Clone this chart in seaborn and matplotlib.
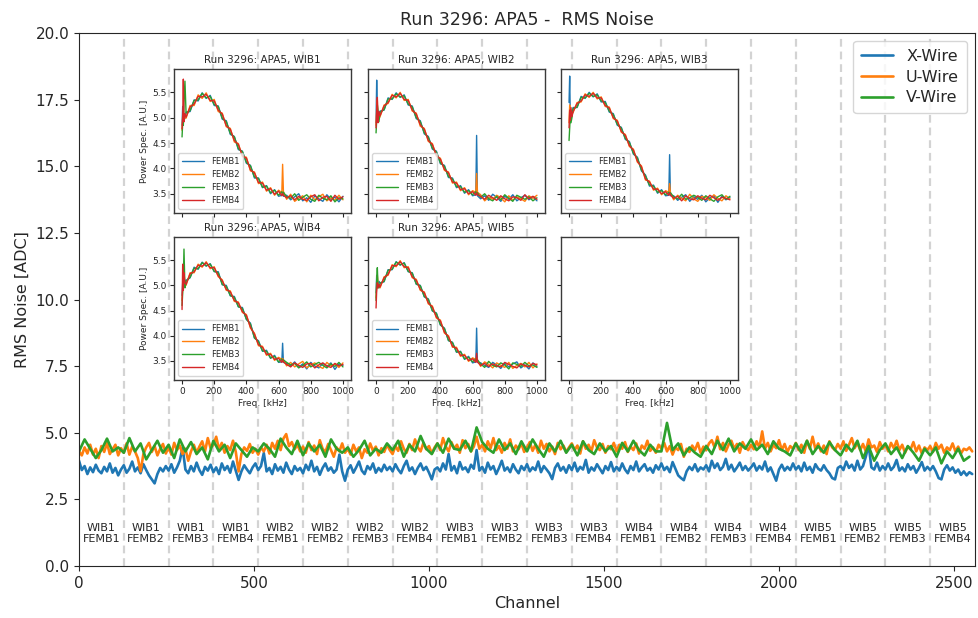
import numpy as np
import pandas as pd
import matplotlib
matplotlib.use("Agg")
import matplotlib.pyplot as plt
import seaborn as sns

sns.set_style("ticks")
plt.rcParams['font.family'] = ['DejaVu Sans']

# ---------------- main RMS data (one row per FEMB, 128 channels each) ----------------
X_CH = np.arange(0, 2560, 8)
X_RMS = [
    3.95, 3.60, 3.75, 3.45, 3.70, 3.52, 3.80, 3.58, 3.48, 3.72, 3.55, 3.85, 3.50, 3.68, 3.40, 3.62,
    3.78, 3.50, 3.65, 3.92, 3.55, 3.70, 3.48, 3.82, 3.60, 3.40, 3.25, 3.10, 3.45, 3.68, 3.55, 3.75,
    3.58, 3.82, 3.50, 3.70, 3.95, 4.45, 3.62, 3.48, 3.75, 3.55, 3.88, 3.60, 3.42, 3.72, 3.58, 3.80,
    3.52, 3.70, 3.45, 3.85, 3.60, 3.75, 3.50, 3.92, 3.58, 3.23, 3.55, 3.78, 3.62, 3.48, 3.70, 3.85,
    3.60, 3.75, 4.24, 3.55, 3.68, 3.45, 3.82, 3.58, 3.72, 3.50, 3.88, 3.62, 3.45, 3.75, 3.58, 3.68,
    3.48, 3.80, 3.60, 3.95, 3.55, 3.72, 3.42, 3.68, 3.85, 3.58, 3.70, 3.50, 3.62, 4.18, 3.55, 3.20,
    3.62, 3.78, 3.50, 3.70, 3.92, 3.58, 3.45, 3.75, 3.62, 3.85, 3.50, 3.68, 3.55, 3.80, 3.60, 3.72,
    3.55, 3.82, 3.62, 3.48, 3.75, 3.95, 3.58, 3.70, 3.45, 3.68, 3.85, 3.60, 3.72, 3.50, 3.25, 3.62,
    3.70, 3.55, 3.85, 3.62, 4.20, 3.58, 3.75, 3.48, 3.90, 3.62, 3.70, 3.52, 3.80, 3.65, 4.35, 3.58,
    3.72, 3.50, 3.88, 3.62, 3.75, 3.45, 3.68, 3.95, 3.58, 3.70, 3.52, 3.82, 3.62, 3.48, 3.75, 3.60,
    3.82, 3.55, 3.70, 3.60, 3.92, 3.52, 3.75, 3.62, 3.48, 3.26, 3.68, 3.85, 3.58, 3.72, 3.50, 3.78,
    3.60, 3.88, 3.55, 3.72, 3.62, 3.98, 3.50, 3.70, 3.58, 3.82, 3.65, 3.48, 3.75, 3.60, 3.90, 3.55,
    3.72, 3.58, 3.85, 3.62, 3.48, 3.75, 3.60, 3.92, 3.55, 3.70, 3.82, 3.58, 3.68, 3.50, 3.78, 3.62,
    3.85, 3.60, 3.72, 3.52, 3.90, 3.65, 3.40, 3.30, 3.22, 3.55, 3.72, 3.60, 3.82, 3.55, 3.70, 3.62,
    3.78, 3.55, 3.95, 3.68, 3.85, 3.60, 3.72, 4.02, 3.62, 3.80, 3.55, 3.70, 3.88, 3.60, 3.75, 3.58,
    3.70, 3.85, 3.58, 3.75, 3.62, 3.92, 3.55, 3.70, 3.45, 3.20, 3.62, 3.80, 3.58, 3.72, 3.60, 3.85,
    3.62, 3.75, 3.55, 3.88, 3.60, 3.72, 3.50, 3.82, 3.65, 3.58, 3.78, 3.60, 3.48, 3.30, 3.25, 3.68,
    3.75, 3.60, 3.92, 3.68, 3.80, 3.58, 3.95, 3.62, 3.75, 4.10, 4.55, 3.70, 3.62, 3.88, 3.58, 3.75,
    3.62, 3.85, 3.60, 3.72, 3.98, 3.58, 3.70, 3.55, 3.82, 3.62, 3.75, 3.50, 3.68, 3.90, 3.58, 3.72,
    3.60, 3.75, 3.55, 3.30, 3.25, 3.62, 3.78, 3.58, 3.70, 3.50, 3.62, 3.42, 3.55, 3.40, 3.52, 3.45,
]
U_CH = np.arange(0, 2560, 8)
U_RMS = [
    4.30, 4.15, 4.45, 4.22, 4.55, 4.18, 4.40, 4.05, 4.50, 4.28, 4.62, 4.20, 4.38, 4.55, 4.15, 4.42,
    4.25, 4.60, 4.18, 4.48, 4.30, 4.05, 3.55, 4.20, 4.45, 4.62, 4.28, 4.50, 4.15, 4.40, 4.58, 4.22,
    4.45, 4.18, 4.62, 4.35, 4.52, 4.20, 4.40, 3.95, 4.30, 4.55, 4.25, 4.48, 4.68, 4.30, 4.80, 4.42,
    4.55, 4.85, 4.38, 4.62, 4.25, 4.50, 4.35, 4.70, 4.28, 3.55, 4.20, 4.45, 4.32, 4.58, 4.25, 4.40,
    4.18, 4.45, 4.30, 4.55, 4.22, 4.62, 4.40, 4.70, 4.35, 4.78, 4.95, 4.50, 4.65, 4.38, 4.55, 4.30,
    4.48, 4.25, 4.65, 4.35, 4.52, 4.20, 4.72, 4.40, 4.28, 4.58, 4.35, 4.10, 4.45, 4.30, 4.60, 4.25,
    4.40, 4.18, 4.55, 4.30, 4.45, 4.05, 4.38, 4.25, 4.60, 4.32, 4.48, 4.15, 4.42, 4.28, 4.55, 4.35,
    4.20, 4.50, 4.32, 4.68, 4.40, 4.25, 4.58, 4.35, 4.75, 4.45, 4.30, 4.62, 4.38, 4.50, 4.22, 4.45,
    4.60, 4.35, 4.80, 4.48, 4.30, 4.65, 4.40, 4.55, 4.25, 4.72, 4.42, 4.58, 4.30, 4.48, 4.85, 4.40,
    4.55, 4.30, 4.68, 4.42, 4.80, 4.35, 4.50, 4.25, 4.62, 4.40, 4.75, 4.30, 4.52, 4.38, 4.60, 4.28,
    4.45, 4.65, 4.32, 4.55, 4.25, 4.70, 4.40, 4.58, 4.30, 4.48, 4.20, 4.62, 4.38, 4.52, 4.28, 4.45,
    4.60, 4.35, 4.52, 4.22, 4.68, 4.40, 4.55, 4.30, 4.72, 4.45, 4.35, 4.58, 4.25, 4.50, 4.38, 4.62,
    4.30, 4.55, 4.40, 4.65, 4.28, 4.48, 4.35, 4.60, 4.22, 4.52, 4.40, 4.70, 4.32, 4.45, 4.25, 4.55,
    4.40, 4.62, 4.30, 4.50, 4.18, 4.45, 4.35, 4.58, 4.10, 4.40, 4.28, 4.52, 4.35, 4.62, 4.25, 4.48,
    4.35, 4.60, 4.72, 4.45, 4.85, 4.38, 4.62, 4.30, 4.55, 4.70, 4.40, 4.58, 4.25, 4.65, 4.45, 4.35,
    4.55, 4.38, 4.68, 4.45, 5.05, 4.40, 4.62, 4.30, 4.55, 4.42, 4.72, 4.35, 4.58, 4.28, 4.50, 4.40,
    4.62, 4.35, 4.55, 4.25, 4.70, 4.40, 4.85, 4.38, 4.60, 4.30, 4.52, 4.20, 4.68, 4.45, 4.35, 4.58,
    4.40, 4.68, 4.32, 4.55, 4.80, 4.42, 4.62, 4.35, 4.58, 4.30, 4.75, 4.45, 4.52, 4.28, 4.65, 4.40,
    4.55, 4.30, 4.62, 4.42, 4.70, 4.35, 4.55, 4.25, 4.48, 4.38, 4.65, 4.30, 4.52, 4.22, 4.45, 4.35,
    4.50, 4.28, 4.62, 4.40, 4.55, 4.25, 4.45, 4.35, 4.60, 4.30, 4.48, 4.22, 4.40, 4.35, 4.45, 4.30,
]
V_CH = np.arange(0, 2560, 16)
V_RMS = [
    4.30, 4.75, 4.40, 4.05, 4.35, 4.78, 4.30, 4.45,
    4.25, 4.80, 4.30, 4.60, 4.00, 4.35, 4.70, 4.25,
    4.55, 4.05, 4.75, 4.30, 4.65, 4.20, 4.45, 4.00,
    4.70, 4.30, 4.55, 4.05, 4.60, 4.35, 4.10, 4.45,
    4.30, 4.60, 4.40, 4.10, 4.78, 4.45, 4.20, 4.70,
    4.15, 4.60, 4.30, 4.55, 4.10, 4.75, 4.40, 4.25,
    4.45, 4.10, 4.35, 4.70, 4.15, 4.40, 4.25, 4.60,
    4.35, 4.70, 4.10, 4.55, 4.30, 4.88, 4.40, 4.20,
    4.60, 4.25, 4.78, 4.40, 4.35, 4.70, 4.30, 5.20,
    4.65, 4.40, 4.25, 4.75, 4.35, 4.60, 4.20, 4.68,
    4.30, 4.75, 4.40, 4.10, 4.60, 4.30, 4.70, 4.25,
    4.55, 4.15, 4.68, 4.35, 4.20, 4.60, 4.30, 4.50,
    4.10, 4.62, 4.30, 4.70, 4.35, 4.15, 4.55, 4.30,
    4.30, 5.37, 4.35, 4.60, 4.15, 4.45, 4.25, 4.10,
    4.50, 4.20, 4.70, 4.35, 4.78, 4.30, 4.60, 4.40,
    4.75, 4.35, 4.55, 4.20, 4.68, 4.40, 4.30, 4.15,
    4.60, 4.25, 4.70, 4.20, 4.50, 4.25, 4.65, 4.35,
    4.15, 4.55, 4.30, 4.70, 4.05, 4.50, 3.95, 4.35,
    4.60, 4.20, 4.45, 4.05, 4.50, 4.25, 3.95, 4.40,
    4.15, 4.45, 3.85, 4.30, 4.05, 4.40, 3.95, 4.10,
]
SERIES = ['X-Wire', 'U-Wire', 'V-Wire']
WIBS = [1, 2, 3, 4, 5]
FEMBS = [1, 2, 3, 4]

# ---------------- inset spectra ----------------
FREQ = [0, 4, 8, 12, 18,
        25, 50, 75, 100, 125, 150, 175, 200, 225, 250, 275, 300,
        325, 350, 375, 400, 425, 450, 475, 500, 525, 550, 575, 600,
        620, 625, 630,
        650, 675, 700, 725, 750, 775, 800, 825, 850, 875, 900, 925, 950, 975, 1000]

W1_F1 = [4.85, 5.22, 4.90, 5.08, 4.98,
         5.11, 5.12, 5.35, 5.33, 5.49, 5.38, 5.44, 5.24, 5.23, 4.97, 4.94, 4.67, 4.63, 4.37, 4.34, 4.10, 4.06, 3.81, 3.81, 3.62, 3.66, 3.50, 3.58, 3.45,
         3.47, 3.53, 3.45,
         3.47, 3.38, 3.44, 3.50, 3.36, 3.42, 3.33, 3.46, 3.40, 3.35, 3.48, 3.39, 3.43, 3.34, 3.45]
W1_F2 = [4.75, 5.05, 5.00, 4.95, 5.02,
         4.99, 5.24, 5.24, 5.45, 5.38, 5.49, 5.32, 5.36, 5.12, 5.09, 4.82, 4.79, 4.52, 4.49, 4.23, 4.22, 3.95, 3.93, 3.70, 3.73, 3.55, 3.62, 3.47, 3.57,
         3.52, 4.08, 3.54,
         3.39, 3.49, 3.35, 3.41, 3.46, 3.34, 3.47, 3.38, 3.44, 3.49, 3.36, 3.42, 3.37, 3.47, 3.38]
W1_F3 = [4.62, 4.90, 4.85, 5.30, 5.72,
         5.09, 5.14, 5.34, 5.35, 5.48, 5.39, 5.42, 5.26, 5.22, 4.99, 4.92, 4.69, 4.62, 4.39, 4.33, 4.12, 4.05, 3.83, 3.80, 3.63, 3.65, 3.52, 3.57, 3.47,
         3.54, 3.48, 3.53,
         3.44, 3.41, 3.50, 3.37, 3.43, 3.48, 3.39, 3.35, 3.47, 3.41, 3.38, 3.46, 3.34, 3.42, 3.40]
W1_F4 = [4.78, 5.00, 5.76, 4.92, 5.08,
         5.01, 5.21, 5.27, 5.42, 5.41, 5.46, 5.34, 5.33, 5.15, 5.07, 4.84, 4.77, 4.55, 4.47, 4.25, 4.20, 3.97, 3.91, 3.72, 3.71, 3.57, 3.60, 3.49, 3.55,
         3.46, 3.51, 3.47,
         3.42, 3.46, 3.38, 3.45, 3.39, 3.37, 3.44, 3.48, 3.36, 3.43, 3.45, 3.35, 3.47, 3.39, 3.44]

W2_F1 = [4.90, 5.74, 5.10, 4.95, 5.05,
         5.13, 5.15, 5.39, 5.36, 5.49, 5.40, 5.45, 5.25, 5.23, 4.98, 4.94, 4.68, 4.63, 4.38, 4.34, 4.09, 4.06, 3.82, 3.81, 3.62, 3.66, 3.51, 3.58, 3.46,
         3.48, 4.65, 3.46,
         3.40, 3.46, 3.37, 3.49, 3.43, 3.35, 3.45, 3.39, 3.48, 3.36, 3.42, 3.47, 3.38, 3.44, 3.36]
W2_F2 = [4.85, 5.20, 5.35, 5.00, 4.98,
         5.02, 5.25, 5.28, 5.46, 5.39, 5.50, 5.34, 5.36, 5.13, 5.09, 4.83, 4.79, 4.53, 4.49, 4.24, 4.20, 3.96, 3.93, 3.71, 3.73, 3.56, 3.62, 3.48, 3.56,
         3.53, 3.90, 3.53,
         3.48, 3.36, 3.43, 3.39, 3.47, 3.42, 3.34, 3.46, 3.37, 3.44, 3.40, 3.35, 3.46, 3.41, 3.47]
W2_F3 = [4.70, 4.95, 5.25, 5.15, 4.92,
         5.11, 5.16, 5.37, 5.37, 5.47, 5.41, 5.43, 5.27, 5.21, 5.00, 4.92, 4.70, 4.61, 4.40, 4.32, 4.11, 4.04, 3.84, 3.79, 3.64, 3.64, 3.53, 3.56, 3.48,
         3.54, 3.49, 3.52,
         3.43, 3.50, 3.40, 3.36, 3.45, 3.38, 3.48, 3.41, 3.35, 3.47, 3.43, 3.39, 3.44, 3.36, 3.42]
W2_F4 = [4.80, 5.10, 5.40, 4.90, 5.12,
         5.04, 5.23, 5.30, 5.44, 5.41, 5.48, 5.36, 5.34, 5.15, 5.07, 4.86, 4.77, 4.55, 4.47, 4.26, 4.18, 3.98, 3.91, 3.73, 3.71, 3.58, 3.60, 3.50, 3.54,
         3.47, 3.52, 3.48,
         3.45, 3.39, 3.47, 3.42, 3.37, 3.46, 3.40, 3.36, 3.44, 3.42, 3.37, 3.48, 3.40, 3.45, 3.39]

W3_F1 = [5.30, 5.82, 5.00, 5.10, 5.05,
         5.20, 5.20, 5.42, 5.38, 5.50, 5.41, 5.47, 5.31, 5.32, 5.11, 5.08, 4.85, 4.81, 4.57, 4.53, 4.28, 4.22, 3.95, 3.87, 3.65, 3.67, 3.51, 3.58, 3.46,
         3.47, 4.27, 3.46,
         3.46, 3.37, 3.43, 3.48, 3.35, 3.44, 3.39, 3.47, 3.34, 3.42, 3.46, 3.33, 3.45, 3.38, 3.43]
W3_F2 = [4.90, 5.25, 5.10, 4.95, 5.12,
         5.10, 5.30, 5.31, 5.47, 5.40, 5.50, 5.37, 5.41, 5.22, 5.21, 4.98, 4.95, 4.71, 4.67, 4.43, 4.38, 4.12, 4.05, 3.77, 3.75, 3.57, 3.61, 3.48, 3.56,
         3.53, 3.70, 3.52,
         3.38, 3.47, 3.41, 3.36, 3.49, 3.40, 3.35, 3.45, 3.42, 3.37, 3.48, 3.41, 3.36, 3.46, 3.40]
W3_F3 = [4.55, 4.80, 5.05, 4.90, 5.00,
         5.18, 5.21, 5.40, 5.39, 5.48, 5.42, 5.45, 5.33, 5.30, 5.13, 5.06, 4.87, 4.79, 4.59, 4.51, 4.30, 4.20, 3.97, 3.85, 3.67, 3.65, 3.53, 3.56, 3.48,
         3.53, 3.49, 3.52,
         3.44, 3.40, 3.49, 3.39, 3.42, 3.47, 3.43, 3.37, 3.46, 3.40, 3.35, 3.44, 3.48, 3.39, 3.45]
W3_F4 = [4.80, 5.15, 4.95, 5.20, 5.02,
         5.12, 5.28, 5.33, 5.45, 5.42, 5.48, 5.39, 5.39, 5.24, 5.19, 5.00, 4.93, 4.73, 4.65, 4.45, 4.36, 4.14, 4.03, 3.79, 3.73, 3.59, 3.59, 3.50, 3.54,
         3.47, 3.52, 3.48,
         3.41, 3.45, 3.36, 3.46, 3.40, 3.38, 3.46, 3.41, 3.38, 3.47, 3.42, 3.37, 3.43, 3.41, 3.38]

W4_F1 = [4.80, 5.05, 5.20, 5.00, 5.10,
         5.10, 5.15, 5.36, 5.32, 5.46, 5.38, 5.43, 5.27, 5.27, 5.01, 5.00, 4.79, 4.78, 4.57, 4.56, 4.32, 4.25, 3.95, 3.90, 3.69, 3.71, 3.55, 3.61, 3.47,
         3.48, 3.85, 3.47,
         3.45, 3.40, 3.48, 3.37, 3.44, 3.34, 3.47, 3.40, 3.36, 3.45, 3.39, 3.46, 3.33, 3.44, 3.41]
W4_F2 = [4.70, 4.95, 5.30, 5.10, 5.00,
         5.00, 5.25, 5.25, 5.42, 5.36, 5.47, 5.33, 5.37, 5.17, 5.11, 4.90, 4.89, 4.68, 4.67, 4.46, 4.42, 4.15, 4.05, 3.80, 3.79, 3.61, 3.65, 3.51, 3.57,
         3.53, 3.55, 3.52,
         3.40, 3.47, 3.38, 3.44, 3.49, 3.36, 3.42, 3.46, 3.39, 3.35, 3.47, 3.40, 3.44, 3.37, 3.46]
W4_F3 = [4.60, 4.85, 5.10, 5.72, 4.95,
         5.08, 5.16, 5.34, 5.33, 5.45, 5.39, 5.42, 5.28, 5.25, 5.02, 4.98, 4.80, 4.76, 4.58, 4.54, 4.33, 4.23, 3.96, 3.88, 3.70, 3.69, 3.56, 3.59, 3.48,
         3.54, 3.49, 3.52,
         3.47, 3.42, 3.45, 3.36, 3.41, 3.48, 3.38, 3.43, 3.47, 3.41, 3.36, 3.44, 3.39, 3.47, 3.38]
W4_F4 = [4.52, 5.42, 4.90, 5.25, 5.05,
         5.02, 5.23, 5.27, 5.40, 5.38, 5.45, 5.35, 5.35, 5.19, 5.09, 4.92, 4.87, 4.70, 4.65, 4.48, 4.40, 4.17, 4.03, 3.82, 3.77, 3.63, 3.63, 3.53, 3.55,
         3.47, 3.52, 3.48,
         3.43, 3.38, 3.46, 3.41, 3.37, 3.44, 3.45, 3.36, 3.42, 3.46, 3.40, 3.37, 3.45, 3.40, 3.43]

W5_F1 = [4.85, 5.20, 5.05, 4.95, 5.08,
         5.05, 5.07, 5.31, 5.31, 5.47, 5.40, 5.45, 5.27, 5.25, 5.02, 5.00, 4.77, 4.73, 4.49, 4.45, 4.21, 4.15, 3.90, 3.87, 3.67, 3.69, 3.53, 3.59, 3.46,
         3.48, 4.15, 3.47,
         3.46, 3.41, 3.37, 3.47, 3.42, 3.35, 3.45, 3.38, 3.44, 3.48, 3.36, 3.42, 3.34, 3.46, 3.39]
W5_F2 = [4.75, 5.00, 5.20, 5.05, 4.98,
         4.95, 5.17, 5.20, 5.41, 5.37, 5.49, 5.35, 5.37, 5.15, 5.12, 4.90, 4.87, 4.63, 4.59, 4.35, 4.31, 4.05, 4.00, 3.77, 3.77, 3.59, 3.63, 3.49, 3.56,
         3.53, 3.56, 3.52,
         3.39, 3.48, 3.43, 3.36, 3.46, 3.41, 3.37, 3.47, 3.35, 3.41, 3.45, 3.38, 3.47, 3.36, 3.44]
W5_F3 = [4.70, 5.10, 5.35, 5.00, 4.95,
         5.04, 5.08, 5.30, 5.32, 5.46, 5.41, 5.44, 5.28, 5.24, 5.03, 4.99, 4.78, 4.72, 4.50, 4.44, 4.22, 4.14, 3.91, 3.86, 3.68, 3.68, 3.54, 3.57, 3.48,
         3.54, 3.49, 3.52,
         3.44, 3.37, 3.49, 3.41, 3.38, 3.46, 3.42, 3.34, 3.46, 3.43, 3.39, 3.47, 3.40, 3.42, 3.37]
W5_F4 = [4.55, 4.90, 5.05, 4.95, 5.02,
         4.97, 5.15, 5.22, 5.39, 5.39, 5.47, 5.37, 5.35, 5.17, 5.10, 4.92, 4.85, 4.65, 4.57, 4.37, 4.29, 4.07, 3.98, 3.79, 3.75, 3.61, 3.61, 3.51, 3.54,
         3.47, 3.65, 3.48,
         3.41, 3.45, 3.39, 3.44, 3.40, 3.38, 3.47, 3.43, 3.39, 3.36, 3.44, 3.41, 3.38, 3.45, 3.42]

SPECTRA = [
    [W1_F1, W1_F2, W1_F3, W1_F4],
    [W2_F1, W2_F2, W2_F3, W2_F4],
    [W3_F1, W3_F2, W3_F3, W3_F4],
    [W4_F1, W4_F2, W4_F3, W4_F4],
    [W5_F1, W5_F2, W5_F3, W5_F4],
]
for grp in SPECTRA:
    for arr in grp:
        assert len(arr) == len(FREQ), len(arr)
assert len(X_RMS) == len(X_CH) and len(U_RMS) == len(U_CH) and len(V_RMS) == len(V_CH)

COLORS = ['#1f77b4', '#ff7f0e', '#2ca02c', '#d62728']
TXT = '#262626'

# ---------------- figure ----------------
W, H = 979, 618
fig = plt.figure(figsize=(W / 100, H / 100), dpi=100)
ax = fig.add_axes([79 / W, 52 / H, 896 / W, 533 / H])

for k in range(1, 20):
    ax.axvline(128 * k, color='#d3d3d3', lw=1.6, ls=(0, (3.5, 2.2)), zorder=0)

for ch, vals, name, col in zip([X_CH, U_CH, V_CH], [X_RMS, U_RMS, V_RMS], SERIES, COLORS):
    sns.lineplot(x=ch, y=vals, ax=ax, color=col, lw=1.9, label=name,
                 estimator=None, sort=False)

for i in range(20):
    ax.text(64 + 128 * i, 1.22, f"WIB{WIBS[i // 4]}\nFEMB{FEMBS[i % 4]}",
            ha='center', va='center', fontsize=8, color=TXT)

ax.set_xlim(0, 2560)
ax.set_ylim(0, 20)
ax.set_yticks(np.arange(0, 20.1, 2.5))
ax.set_xlabel("Channel", fontsize=11.5, color=TXT)
ax.set_ylabel("RMS Noise [ADC]", fontsize=11.5, color=TXT)
ax.set_title("Run 3296: APA5 -  RMS Noise", fontsize=12.5, color=TXT)
ax.tick_params(labelsize=11)
ax.legend(loc='upper right', fontsize=11.5, frameon=True, borderpad=0.5,
          labelspacing=0.35, handlelength=2.0)

# ---------------- insets ----------------
cols_x = [174, 368, 561]
row_tb = [(69, 213), (237, 380)]
iw = 177
for idx in range(6):
    r, c = divmod(idx, 3)
    top, bot = row_tb[r]
    ia = fig.add_axes([cols_x[c] / W, (H - bot) / H, iw / W, (bot - top) / H])
    ia.set_facecolor('white')
    ia.set_xlim(-50, 1050)
    ia.set_ylim(3.12, 5.96)
    ia.set_xticks([0, 200, 400, 600, 800, 1000])
    ia.set_yticks([3.5, 4.0, 4.5, 5.0, 5.5])
    ia.tick_params(labelsize=6.5, length=3, width=0.8, pad=2)
    for s in ia.spines.values():
        s.set_linewidth(1.0)
        s.set_color('#3a3a3a')
    if idx < 5:
        for j, arr in enumerate(SPECTRA[idx]):
            sns.lineplot(x=FREQ, y=arr, ax=ia, color=COLORS[j], lw=1.0,
                         label=f"FEMB{FEMBS[j]}", estimator=None, sort=False)
        ia.set_title(f"Run 3296: APA5, WIB{WIBS[idx]}", fontsize=7.5, color=TXT, pad=4)
        ia.legend(loc='lower left', fontsize=6, frameon=True, handlelength=2.6,
                  labelspacing=0.45, borderpad=0.5, handletextpad=0.8)
    if c == 0:
        ia.set_ylabel("Power Spec. [A.U.]", fontsize=6.5, color=TXT, labelpad=3)
    else:
        ia.set_yticklabels([])
        ia.set_ylabel("")
    if r == 1:
        ia.set_xlabel("Freq. [kHz]", fontsize=6.5, color=TXT, labelpad=2)
    else:
        ia.set_xticklabels([])
        ia.set_xlabel("")

fig.savefig("out.png", dpi=100)
